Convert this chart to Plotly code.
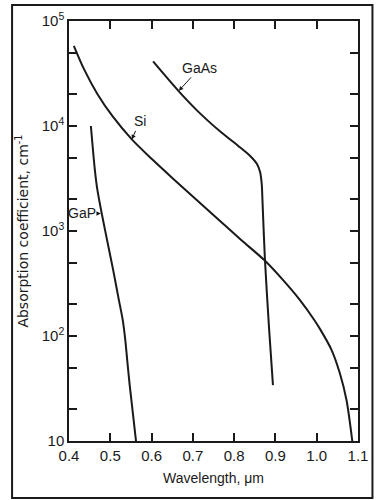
import plotly.graph_objects as go

# Absorption coefficient (cm^-1) versus wavelength (um)
si_wl = [0.4117, 0.4363, 0.4691, 0.5054, 0.5522, 0.6014, 0.6541, 0.708, 0.7618, 0.8157,
         0.8742, 0.9176, 0.9585, 0.9937, 1.0089, 1.0358, 1.0557, 1.0721, 1.0862]
si_alpha = [58000, 34800, 20100, 12400, 7460, 4820, 3100, 2000, 1288, 830,
            523, 344, 222, 143, 115, 73.9, 44.6, 24.6, 10]

gaas_wl = [0.6037, 0.666, 0.72, 0.77, 0.81, 0.84, 0.855, 0.863, 0.867, 0.8685, 0.8747, 0.8848, 0.894]
gaas_alpha = [41200, 21400, 12900, 8610, 6460, 5130, 4370, 3630, 2750, 2000, 525, 115, 34]

gap_wl = [0.453, 0.4625, 0.4686, 0.480, 0.496, 0.5068, 0.5206, 0.530, 0.5363, 0.541, 0.547, 0.5623]
gap_alpha = [10000, 3870, 2490, 1420, 692, 429, 222, 143, 92, 59, 34, 10]

x_tickvals = [0.4, 0.5, 0.6, 0.7, 0.8, 0.9, 1.0, 1.1]
x_ticktext = ["0.4", "0.5", "0.6", "0.7", "0.8", "0.9", "1.0", "1.1"]

y_tickvals = [10, 20, 50, 100, 200, 500, 1000, 2000, 5000, 10000, 20000, 50000, 100000]
y_ticktext = ["10", "", "", "10<sup>2</sup>", "", "", "10<sup>3</sup>", "", "",
              "10<sup>4</sup>", "", "", "10<sup>5</sup>"]

INK = "#1a1a1a"
FONT = "Liberation Sans"
TITLE_FONT = "DejaVu Sans"

fig = go.Figure()
for wl, alpha in [(si_wl, si_alpha), (gaas_wl, gaas_alpha), (gap_wl, gap_alpha)]:
    fig.add_trace(go.Scatter(
        x=wl, y=alpha, mode="lines",
        line=dict(color=INK, width=2, shape="spline", smoothing=0.8),
        showlegend=False, hoverinfo="skip",
    ))

# curve labels with pointer arrows
labels = [
    ("GaAs", 0.666, 4.335, 21, -23),
    ("Si", 0.5522, 3.873, 8, -18),
    ("GaP", 0.4773, 3.167, -19, 0),
]
for text, x, ylog, ax, ay in labels:
    fig.add_annotation(
        x=x, y=ylog, xref="x", yref="y", text=text,
        showarrow=True, ax=ax, ay=ay, arrowhead=2, arrowsize=0.9,
        arrowwidth=1, arrowcolor=INK, standoff=0, startstandoff=0,
        font=dict(family=FONT, size=14, color=INK),
    )

# outer frame around the whole figure
fig.add_shape(type="rect", xref="paper", yref="paper",
              x0=-0.197, x1=1.05, y0=-0.136, y1=1.038,
              line=dict(color=INK, width=2), fillcolor="rgba(0,0,0,0)")

axis_common = dict(
    showline=True, linecolor=INK, linewidth=1.5, mirror="ticks",
    ticks="inside", ticklen=8, tickwidth=1.5, tickcolor=INK,
    showgrid=False, zeroline=False,
    tickfont=dict(family=FONT, size=15, color=INK),
)

fig.update_xaxes(
    range=[0.4, 1.1], tickmode="array", tickvals=x_tickvals, ticktext=x_ticktext,
    title_text="Wavelength, \u03bcm", title_standoff=10,
    title_font=dict(family=FONT, size=14, color=INK), **axis_common,
)
fig.update_yaxes(
    type="log", range=[1, 5], tickmode="array", tickvals=y_tickvals, ticktext=y_ticktext,
    title_text="Absorption coefficient, cm<sup>-1</sup>", title_standoff=10,
    title_font=dict(family=TITLE_FONT, size=14, color=INK), **axis_common,
)

fig.update_layout(
    width=378, height=500,
    margin=dict(l=69, r=10, t=21, b=59),
    paper_bgcolor="white", plot_bgcolor="white",
)

fig.write_html("out.html")
